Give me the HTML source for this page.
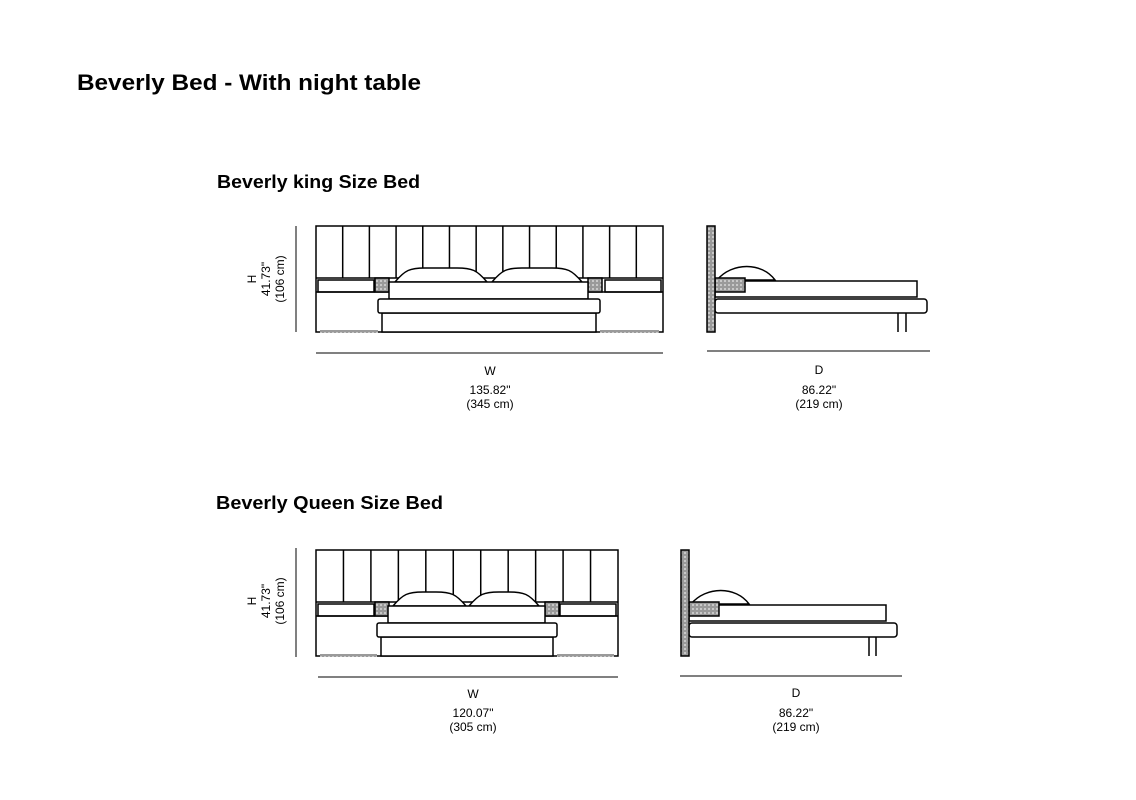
<!DOCTYPE html>
<html><head><meta charset="utf-8"><style>
html,body{margin:0;padding:0;background:#fff;width:1136px;height:800px;overflow:hidden}
svg{display:block}
text{font-family:"Liberation Sans",sans-serif;fill:#000}
.t{font-weight:bold}
.s{font-size:12px}
</style></head><body>
<svg id="s" width="1136" height="800" viewBox="0 0 1136 800" xmlns="http://www.w3.org/2000/svg">
<defs>
<pattern id="g" width="4" height="4" patternUnits="userSpaceOnUse"><rect width="4" height="4" fill="#9a9a9a"/><rect width="2" height="2" fill="#c8c8c8"/></pattern>
</defs>
<text class="t" x="77" y="90" font-size="22" textLength="344" lengthAdjust="spacingAndGlyphs">Beverly Bed  - With night table</text>
<text class="t" x="217" y="188" font-size="18" textLength="203" lengthAdjust="spacingAndGlyphs">Beverly king Size Bed</text>
<text class="t" x="216" y="509" font-size="18" textLength="227" lengthAdjust="spacingAndGlyphs">Beverly Queen Size Bed</text>

<!-- king dims -->
<line x1="296" y1="226" x2="296" y2="332" stroke="#000"/>
<g transform="translate(288,279) rotate(-90)"><text class="s" x="0" y="-32" text-anchor="middle">H</text><text class="s" x="0" y="-18" text-anchor="middle">41.73"</text><text class="s" x="0" y="-4" text-anchor="middle">(106 cm)</text></g>
<line x1="316" y1="353" x2="663" y2="353" stroke="#000"/>
<text class="s" x="490" y="375" text-anchor="middle">W</text>
<text class="s" x="490" y="394" text-anchor="middle">135.82"</text>
<text class="s" x="490" y="408" text-anchor="middle">(345 cm)</text>
<line x1="707" y1="351" x2="930" y2="351" stroke="#000"/>
<text class="s" x="819" y="374" text-anchor="middle">D</text>
<text class="s" x="819" y="394" text-anchor="middle">86.22"</text>
<text class="s" x="819" y="408" text-anchor="middle">(219 cm)</text>

<!-- queen dims -->
<line x1="296" y1="548" x2="296" y2="657" stroke="#000"/>
<g transform="translate(288,601) rotate(-90)"><text class="s" x="0" y="-32" text-anchor="middle">H</text><text class="s" x="0" y="-18" text-anchor="middle">41.73"</text><text class="s" x="0" y="-4" text-anchor="middle">(106 cm)</text></g>
<line x1="318" y1="677" x2="618" y2="677" stroke="#000"/>
<text class="s" x="473" y="698" text-anchor="middle">W</text>
<text class="s" x="473" y="717" text-anchor="middle">120.07"</text>
<text class="s" x="473" y="731" text-anchor="middle">(305 cm)</text>
<line x1="680" y1="676" x2="902" y2="676" stroke="#000"/>
<text class="s" x="796" y="697" text-anchor="middle">D</text>
<text class="s" x="796" y="717" text-anchor="middle">86.22"</text>
<text class="s" x="796" y="731" text-anchor="middle">(219 cm)</text>
<g id="draw" fill="none" stroke="#000" stroke-width="1.5"></g>
</svg>
<script>
var g=document.getElementById('draw'),h='';
function R(x,y,w,hh,f,rx){h+='<rect x="'+x+'" y="'+y+'" width="'+w+'" height="'+hh+'"'+(f?' fill="'+f+'"':' fill="#fff"')+(rx?' rx="'+rx+'"':'')+'/>';}
function L(a,b,c,d){h+='<line x1="'+a+'" y1="'+b+'" x2="'+c+'" y2="'+d+'"/>';}
function P(d){h+='<path d="'+d+'" fill="#fff"/>';}
function front(o){
 var x0=316,x1=o.r,y0=o.y,n=o.n,cw=(x1-x0)/n;
 R(x0,y0,x1-x0,106);
 for(var i=1;i<n;i++)L(x0+i*cw,y0,x0+i*cw,y0+52);
 L(x0,y0+52,x1,y0+52);
 R(x0+2,y0+54,56,12);R(x1-58,y0+54,56,12);
 L(x0,y0+66,x1,y0+66);
 R(x0+59,y0+52,14,14,'url(#g)');R(o.mr,y0+52,14,14,'url(#g)');
 h+='<rect x="'+(x0+4)+'" y="'+(y0+104)+'" width="'+(o.fl-x0-4)+'" height="3" fill="url(#g)" stroke="none"/>';
 h+='<rect x="'+(o.fr)+'" y="'+(y0+104)+'" width="'+(x1-4-o.fr)+'" height="3" fill="url(#g)" stroke="none"/>';
 // pillows
 o.p.forEach(function(p){P('M'+p[0]+' '+(y0+56)+' C'+(p[0]+10)+' '+(y0+44)+' '+(p[0]+15)+' '+(y0+42)+' '+(p[0]+30)+' '+(y0+42)+' L'+(p[1]-30)+' '+(y0+42)+' C'+(p[1]-15)+' '+(y0+42)+' '+(p[1]-10)+' '+(y0+44)+' '+p[1]+' '+(y0+56)+' Z');});
 R(o.ml,y0+56,o.mr-o.ml,17);
 R(o.fl+4,y0+87,o.fr-o.fl-8,19);
 R(o.fl,y0+73,o.fr-o.fl,14,null,2);
}
front({r:663,y:226,n:13,ml:389,mr:588,fl:378,fr:600,p:[[395,487],[492,582]]});
front({r:618,y:550,n:11,ml:388,mr:545,fl:377,fr:557,p:[[393,466],[469,539]]});
function side(o){
 var x=o.x,y=o.y;
 L(o.l1,y+87,o.l1,y+106);L(o.l2,y+87,o.l2,y+106);
 R(x+8,y+73,o.fe-x-8,14,null,3);
 R(x+8,y+55,o.me-x-8,16);
 P('M'+(x+10)+' '+(y+54)+' C'+(x+25)+' '+(y+36)+' '+(x+55)+' '+(y+36)+' '+(x+68)+' '+(y+54)+' Z');
 R(x+8,y+52,30,14,'url(#g)');
 R(x,y,8,106,'url(#g)');
}
side({x:707,y:226,fe:927,me:917,l1:898,l2:906});
side({x:681,y:550,fe:897,me:886,l1:869,l2:876});
g.innerHTML=h;
</script>
</body></html>
